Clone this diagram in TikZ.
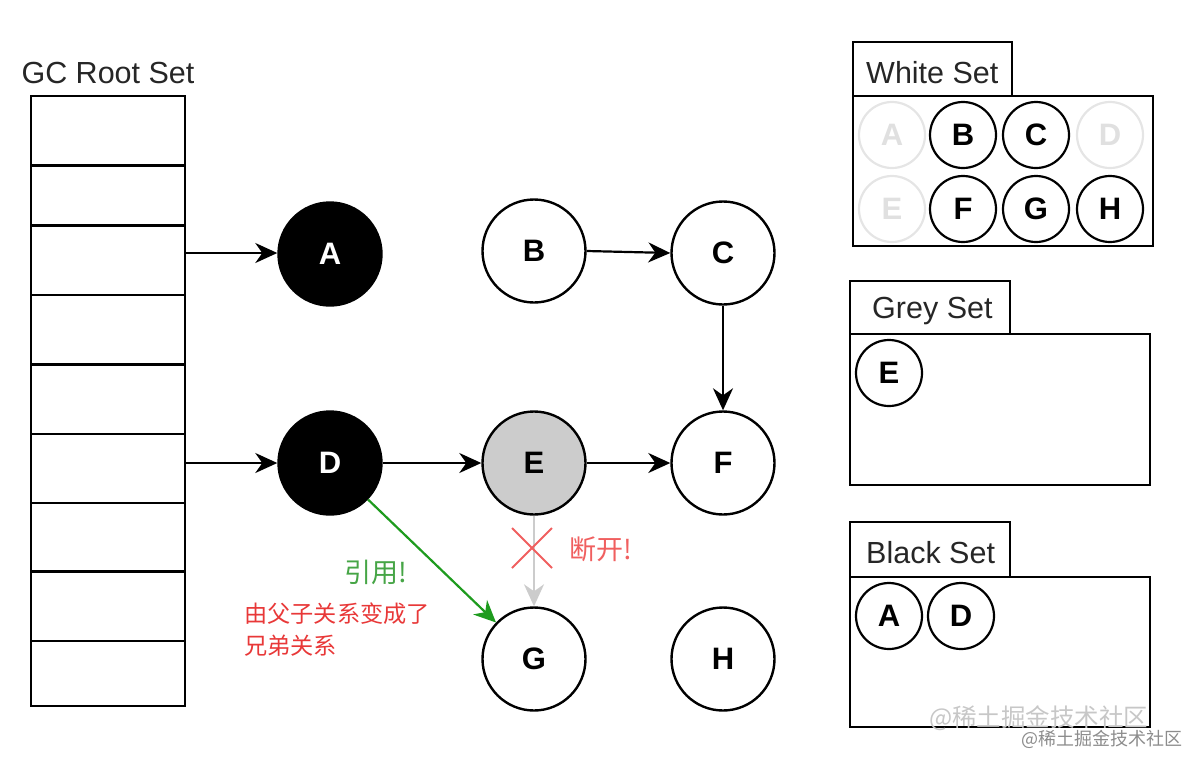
\documentclass[tikz,border=0pt]{standalone}
\usepackage{fontspec}
\setmainfont{Liberation Sans}
\newfontfamily\cjk{Noto Sans CJK SC}
\usetikzlibrary{arrows.meta,calc}
\definecolor{redtxt}{RGB}{232,56,56}
\definecolor{pinkred}{RGB}{240,95,95}
\definecolor{greentxt}{RGB}{70,165,70}
\definecolor{greenline}{RGB}{30,155,30}
\definecolor{egrey}{RGB}{204,204,204}
\tikzset{
  obj/.style={circle,draw=black,line width=2.4pt,minimum size=103pt,inner sep=0pt,font=\fontsize{31}{31}\selectfont\bfseries},
  setobj/.style={circle,draw=black,line width=2.2pt,minimum size=66pt,inner sep=0pt,font=\fontsize{31}{31}\selectfont\bfseries},
  faint/.style={draw=black!10,text=black!12},
  box/.style={draw=black,line width=2.6pt},
  arr/.style={line width=2.2pt,-{Stealth[length=22pt,width=20pt,inset=7pt]}},
  lbl/.style={font=\fontsize{30.5}{30.5}\selectfont,text=black!85,inner sep=0pt},
}
\begin{document}
\begin{tikzpicture}[x=1pt,y=-1pt]
\useasboundingbox (0,0) rectangle (1204,769);
% GC root set
\node[lbl] (rootlbl) at (108,73) {GC Root Set};
\draw[box] (31,96) rectangle (185,706);
\foreach \yy in {165.5,225.5,295,364.5,434,503,571.6,641}{\draw[box] (31,\yy) -- (185,\yy);}
\coordinate (rA) at (185,253);
\coordinate (rD) at (185,463);
% nodes
\node[obj,fill=black,text=white] (A) at (330,254) {A};
\node[obj] (B) at (534,251) {B};
\node[obj] (C) at (723,253) {C};
\node[obj,fill=black,text=white] (D) at (330,463) {D};
\node[obj,fill=egrey] (E) at (534,463) {E};
\node[obj] (F) at (723,463) {F};
\node[obj] (G) at (534,659) {G};
\node[obj] (H) at (723,659) {H};
% edges
\draw[arr] (rA) -- (rA -| A.west);
\draw[arr] (rD) -- (D);
\draw[arr] (B.east) -- (C.west);
\draw[arr] (C) -- (F);
\draw[arr] (D) -- (E);
\draw[arr] (E) -- (F);
\draw[arr,draw=egrey] (E) -- (G);
\draw[arr,draw=greenline] (D) -- (G);
% red X
\coordinate (xc) at (532,548);
\draw[pinkred,line width=2pt] ($(xc)+(-20,-20)$) -- ($(xc)+(20,20)$);
\draw[pinkred,line width=2pt] ($(xc)+(-20,20)$) -- ($(xc)+(20,-20)$);
\node[anchor=west,inner sep=0pt,text=pinkred,font=\cjk\fontsize{27}{27}\selectfont] (cut) at (569,549) {断开!};
\node[inner sep=0pt,text=greentxt,font=\cjk\fontsize{27}{27}\selectfont] (ref) at (376,572) {引用!};
\node[anchor=west,inner sep=0pt,text=redtxt,font=\cjk\fontsize{23.2}{32}\selectfont,align=left] (note) at (244,630) {由父子关系变成了\\兄弟关系};
% White set
\draw[box] (853,42) rectangle (1012,96);
\node[lbl,anchor=west] (wl) at (866,73) {White Set};
\draw[box] (853,96) rectangle (1153,246);
\node[setobj,faint] (wA) at (892,135) {A};
\node[setobj] (wB) at (963,135) {B};
\node[setobj] (wC) at (1036,135) {C};
\node[setobj,faint] (wD) at (1110,135) {D};
\node[setobj,faint] (wE) at (892,209) {E};
\node[setobj] (wF) at (963,209) {F};
\node[setobj] (wG) at (1036,209) {G};
\node[setobj] (wH) at (1110,209) {H};
% Grey set
\draw[box] (850,281) rectangle (1010,334);
\node[lbl,anchor=west] (gl) at (872,311) {Grey Set};
\draw[box] (850,334) rectangle (1150,485);
\node[setobj] (gE) at (889,373) {E};
% Black set
\draw[box] (850,522) rectangle (1010,577);
\node[lbl,anchor=west] (bl) at (866,553) {Black Set};
\draw[box] (850,577) rectangle (1150,727);
\node[setobj] (bA) at (889,616) {A};
\node[setobj] (bD) at (961,616) {D};
% watermarks
\node[anchor=west,inner sep=0pt,text=black!22,font=\cjk\fontsize{24.5}{24.5}\selectfont] (wm1) at (929,718) {@稀土掘金技术社区};
\node[anchor=west,inner sep=0pt,text=black!45,font=\cjk\fontsize{18}{18}\selectfont] (wm2) at (1021,739) {@稀土掘金技术社区};
\end{tikzpicture}
\end{document}
